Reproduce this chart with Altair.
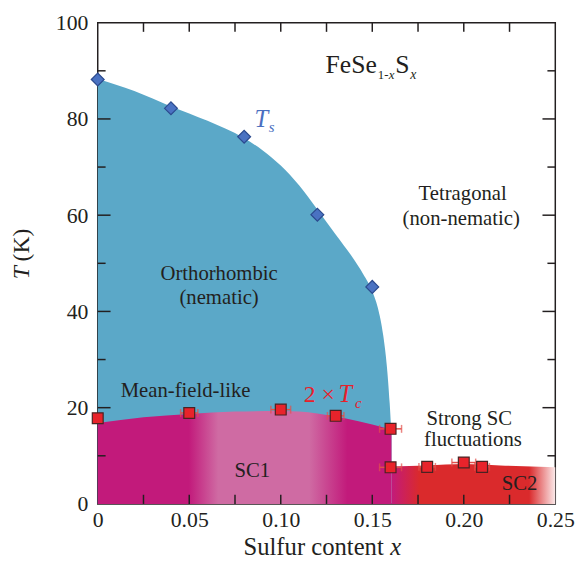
import altair as alt
import pandas as pd

# ---------------- data ----------------
# structural (nematic) transition Ts
ts_x = [0.0, 0.04, 0.08, 0.12, 0.15]
ts_T = [88.2, 82.2, 76.3, 60.1, 45.1]

# 2 x Tc with horizontal error bars
tc_x = [0.0, 0.05, 0.10, 0.13, 0.16, 0.16, 0.18, 0.20, 0.21]
tc_T = [17.8, 18.9, 19.6, 18.3, 15.6, 7.6, 7.7, 8.6, 7.7]
tc_err = [0.0, 0.0047, 0.0054, 0.0045, 0.006, 0.006, 0.0045, 0.0065, 0.004]

# orthorhombic (nematic) region boundary
nem_x = [0.0, 0.02, 0.04, 0.06, 0.08, 0.09, 0.10, 0.11, 0.12, 0.13, 0.14, 0.145, 0.15,
         0.153, 0.156, 0.158, 0.1595, 0.1605]
nem_T = [88.3, 85.8, 82.6, 79.6, 76.0, 73.5, 70.3, 66.2, 61.2, 56.0, 50.8, 47.8, 44.2,
         40.8, 35.0, 28.5, 21.0, 14.0]

# SC1 dome upper boundary
sc1_x = [0.0, 0.025, 0.05, 0.075, 0.10, 0.12, 0.135, 0.15, 0.1605]
sc1_T = [16.8, 18.0, 18.7, 19.2, 19.3, 18.8, 17.8, 16.5, 15.4]

# SC2 region upper boundary
sc2_x = [0.1605, 0.18, 0.20, 0.22, 0.25]
sc2_T = [7.8, 8.0, 8.3, 8.0, 7.6]

# axis ticks
x_ticks_minor = [0.025, 0.05, 0.075, 0.10, 0.125, 0.15, 0.175, 0.20, 0.225]
x_labels = [0, 0.05, 0.10, 0.15, 0.20, 0.25]
y_major = [20, 40, 60, 80]
y_minor = [10, 30, 50, 70, 90]
y_labels = [0, 20, 40, 60, 80, 100]

# annotation texts (centre x, baseline T)
ann_text = ["Orthorhombic", "(nematic)", "Tetragonal", "(non-nematic)",
            "Mean-field-like", "SC1", "Strong SC", "fluctuations", "SC2"]
ann_x = [0.0663, 0.0663, 0.1994, 0.1986, 0.048, 0.0844, 0.203, 0.205, 0.2305]
ann_T = [46.6, 41.5, 63.1, 58.0, 22.2, 5.5, 16.4, 12.0, 2.8]

FONT = "Liberation Serif, Times New Roman, DejaVu Serif, serif"
INK = "#231f20"
BLUE_REGION = "#5ba8c8"
MAG = "#c21a7b"
PINK = "#cf6ba3"
RED = "#da2a2c"

X = alt.Scale(domain=[0, 0.25], nice=False, zero=False)
Y = alt.Scale(domain=[0, 100], nice=False, zero=False)

x_axis = alt.Axis(values=x_labels, labelExpr="datum.value == 0 ? '0' : format(datum.value, '.2f')",
                  title=None, labelPadding=6, labelFlush=False)
y_axis = alt.Axis(values=y_labels, title=None, labelPadding=10)

nem_df = pd.DataFrame({"x": nem_x, "T": nem_T})
sc1_df = pd.DataFrame({"x": sc1_x, "T": sc1_T})
sc2_df = pd.DataFrame({"x": sc2_x, "T": sc2_T})

blue = alt.Chart(nem_df).mark_area(color=BLUE_REGION, interpolate="monotone").encode(
    x=alt.X("x:Q", scale=X, axis=x_axis), y=alt.Y("T:Q", scale=Y, axis=y_axis), y2=alt.datum(0))

sc1_grad = alt.Gradient(gradient="linear", x1=0, x2=1, y1=0, y2=0, stops=[
    alt.GradientStop(offset=0, color=MAG), alt.GradientStop(offset=0.31, color=MAG),
    alt.GradientStop(offset=0.41, color=PINK), alt.GradientStop(offset=0.72, color=PINK),
    alt.GradientStop(offset=0.85, color=MAG), alt.GradientStop(offset=1, color=MAG)])
sc1 = alt.Chart(sc1_df).mark_area(color=sc1_grad, interpolate="monotone").encode(
    x=alt.X("x:Q", scale=X), y=alt.Y("T:Q", scale=Y), y2=alt.datum(0))

sc2_grad = alt.Gradient(gradient="linear", x1=0, x2=1, y1=0, y2=0, stops=[
    alt.GradientStop(offset=0, color=MAG), alt.GradientStop(offset=0.17, color=RED),
    alt.GradientStop(offset=0.84, color=RED), alt.GradientStop(offset=1, color="#fbeaea")])
sc2 = alt.Chart(sc2_df).mark_area(color=sc2_grad, interpolate="monotone").encode(
    x=alt.X("x:Q", scale=X), y=alt.Y("T:Q", scale=Y), y2=alt.datum(0))

# inward ticks on all four sides
XT_LEN = 1.9       # in K
YT_MAJ = 0.0070    # in x units
YT_MIN = 0.0043
xt_rows = []
for v in x_ticks_minor:
    xt_rows.append({"x": v, "x2": v, "y": 0, "y2": XT_LEN})
    xt_rows.append({"x": v, "x2": v, "y": 100, "y2": 100 - XT_LEN})
for v in y_major:
    xt_rows.append({"x": 0, "x2": YT_MAJ, "y": v, "y2": v})
    xt_rows.append({"x": 0.25, "x2": 0.25 - YT_MAJ, "y": v, "y2": v})
for v in y_minor:
    xt_rows.append({"x": 0, "x2": YT_MIN, "y": v, "y2": v})
    xt_rows.append({"x": 0.25, "x2": 0.25 - YT_MIN, "y": v, "y2": v})
ticks = alt.Chart(pd.DataFrame(xt_rows)).mark_rule(color=INK, strokeWidth=1.5).encode(
    x=alt.X("x:Q", scale=X), x2="x2", y=alt.Y("y:Q", scale=Y), y2="y2")

tc_df = pd.DataFrame({"x": tc_x, "T": tc_T, "err": tc_err})
tc_df["lo"] = tc_df["x"] - tc_df["err"]
tc_df["hi"] = tc_df["x"] + tc_df["err"]
err_df = tc_df[tc_df["err"] > 0]
ERR = "#e2504c"
err_line = alt.Chart(err_df).mark_rule(color=ERR, strokeWidth=1.5).encode(
    x=alt.X("lo:Q", scale=X), x2="hi", y=alt.Y("T:Q", scale=Y))
caps = pd.concat([err_df[["lo", "T"]].rename(columns={"lo": "cx"}),
                  err_df[["hi", "T"]].rename(columns={"hi": "cx"})])
err_caps = alt.Chart(caps).mark_tick(color=ERR, orient="vertical", size=8, thickness=1.5).encode(
    x=alt.X("cx:Q", scale=X), y=alt.Y("T:Q", scale=Y))

squares = alt.Chart(tc_df).mark_point(shape="square", filled=True, size=121, fill="#e8232b",
                                      stroke="#4a2222", strokeWidth=1.2, opacity=1).encode(
    x=alt.X("x:Q", scale=X), y=alt.Y("T:Q", scale=Y))

ts_df = pd.DataFrame({"x": ts_x, "T": ts_T})
diamonds = alt.Chart(ts_df).mark_point(shape="diamond", filled=True, size=170, fill="#4a72c2",
                                       stroke="#2b4a8e", strokeWidth=1.2, opacity=1).encode(
    x=alt.X("x:Q", scale=X), y=alt.Y("T:Q", scale=Y))

ann_df = pd.DataFrame({"x": ann_x, "T": ann_T, "t": ann_text})
ann = alt.Chart(ann_df).mark_text(font=FONT, fontSize=21, color=INK, align="center",
                                  baseline="alphabetic").encode(
    x=alt.X("x:Q", scale=X), y=alt.Y("T:Q", scale=Y), text="t:N")


def piece(txt, x, T, size, color=INK, style="normal", align="left", baseline="alphabetic", angle=0):
    df = pd.DataFrame({"x": [x], "T": [T], "t": [txt]})
    kw = dict(font=FONT, fontSize=size, color=color, fontStyle=style, align=align, baseline=baseline)
    if angle:
        kw["angle"] = angle
    return alt.Chart(df).mark_text(**kw).encode(
        x=alt.X("x:Q", scale=X), y=alt.Y("T:Q", scale=Y), text="t:N")


TSC = "#4a6fc0"
TCC = "#e8202a"
pieces = [
    # FeSe_{1-x}S_x
    piece("FeSe", 0.1245, 89.6, 26),
    piece("1-", 0.1530, 88.2, 13),
    piece("x", 0.1590, 88.2, 13, style="italic"),
    piece("S", 0.1626, 89.6, 26),
    piece("x", 0.1707, 88.2, 14, style="italic"),
    # T_s
    piece("T", 0.0857, 78.4, 25, color=TSC, style="italic"),
    piece("s", 0.0935, 77.2, 15, color=TSC, style="italic"),
    # 2 x T_c
    piece("2 \u00d7", 0.1126, 21.2, 24, color=TCC),
    piece("T", 0.1315, 21.2, 25, color=TCC, style="italic"),
    piece("c", 0.1405, 20.0, 15, color=TCC, style="italic"),
    # axis titles
    piece("Sulfur content", 0.1563, -10.7, 25, align="right"),
    piece("x", 0.1598, -10.7, 25, style="italic"),
    piece("T", -0.0415, 49.4, 24, style="italic", align="right", baseline="middle", angle=270),
    piece("(K)", -0.0415, 50.4, 24, align="left", baseline="middle", angle=270),
]

chart = alt.layer(blue, sc1, sc2, ticks, err_line, err_caps, squares, diamonds, ann, *pieces).properties(
    width=464, height=488,
    autosize=alt.AutoSizeParams(type="none"),
    padding={"left": 91, "top": 11, "right": 21, "bottom": 55},
).configure_axis(
    grid=False, domain=False, ticks=False, labelFont=FONT, labelFontSize=22, labelColor=INK,
).configure_view(stroke=INK, strokeWidth=1.5)

chart.save("out.html", embed_options={"renderer": "svg", "actions": False})
